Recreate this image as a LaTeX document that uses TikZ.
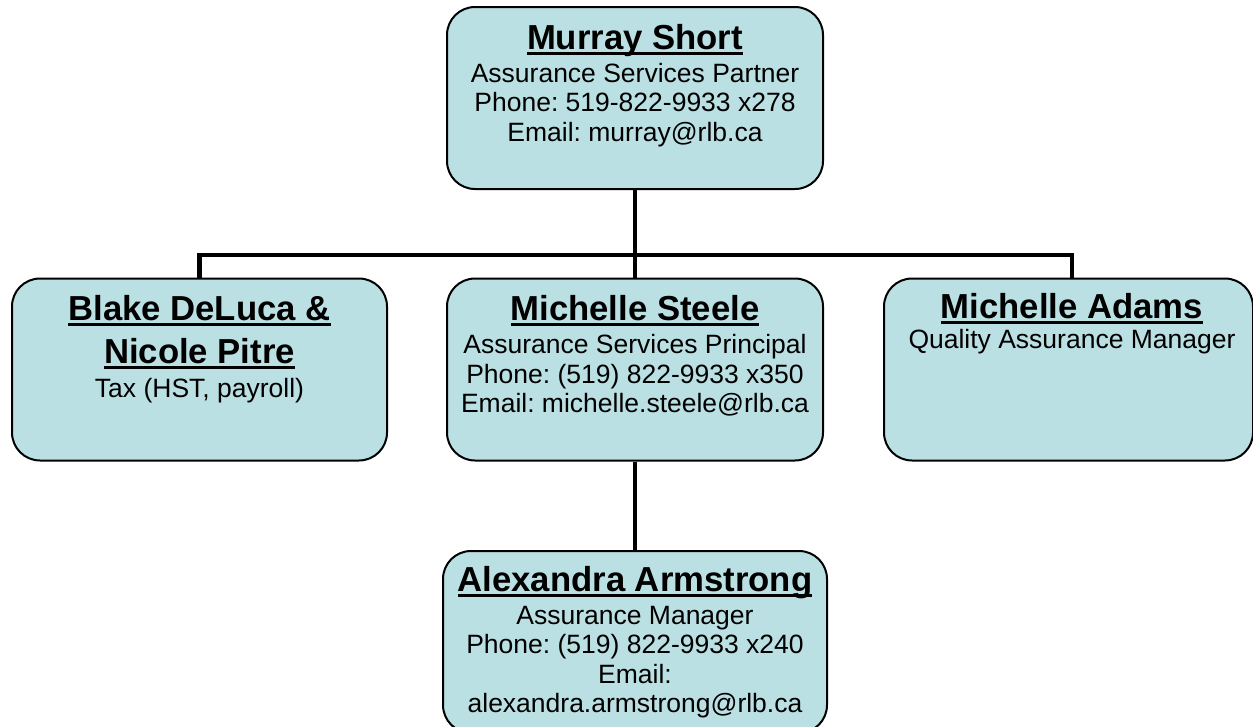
\documentclass[tikz,border=0pt]{standalone}
\usepackage{fontspec}
\setmainfont{Liberation Sans}
\usetikzlibrary{positioning}
\frenchspacing
\definecolor{boxblue}{RGB}{187,224,227}
\newcommand{\bodyfont}{\fontsize{26.5pt}{29.5pt}\selectfont}
\newcommand{\namefont}{\fontsize{34.7pt}{36pt}\selectfont\bfseries}
\newcommand{\uname}[1]{\setbox0\hbox{#1}\vrule height 30pt depth 0pt width 0pt%
    \rlap{\vrule height -2.5pt depth 5.5pt width \wd0}\box0}
\tikzset{
    person box/.style = {draw, fill=boxblue, line width=2pt, rounded corners=28pt,
        inner sep=0pt, minimum height=182pt},
    person text/.style = {align=center, inner sep=0pt, anchor=north, font=\bodyfont},
    org line/.style = {line width=4.7pt}
}

\begin{document}
\begin{tikzpicture}[x=1pt, y=-1pt]
        \useasboundingbox (0, 0) rectangle (1253, 726);

        \node[person box, minimum width=376pt] (murray) at (635, 98) {};
        \node[person box, minimum width=375pt] (blake) at (199.5, 369.5) {};
        \node[person box, minimum width=376pt] (steele) at (635, 369.5) {};
        \node[person box, minimum width=369pt] (adams) at (1068.5, 369.5) {};
        \node[person box, minimum width=384pt] (alexandra) at (635, 642) {};

        \coordinate (bar) at (635, 255);
        \coordinate (adams drop) at ([xshift=3.5pt]adams.north);

        \draw[org line] (murray.south) -- (bar);
        \draw[org line] (blake.north) |- (bar);
        \draw[org line] (adams drop) |- (bar);
        \draw[org line] (steele.north) -- (bar);
        \draw[org line] (steele.south) -- (alexandra.north);

        % the name line is 30pt high, its baseline sits 43pt under the box top
        \node[person text] (murray text) at ([yshift=-13pt]murray.north)
            {{\namefont\uname{Murray Short}}\\[3.5pt]
             Assurance Services Partner\\
             Phone: 519-822-9933 x278\\
             Email: murray@rlb.ca};
        \node[person text] (blake text) at ([yshift=-13pt]blake.north)
            {{\namefont\uname{Blake DeLuca \&}}\\[6.5pt]
             {\namefont\uname{Nicole Pitre}}\\[4.5pt]
             Tax (HST, payroll)};
        \node[person text] (steele text) at ([yshift=-13pt]steele.north)
            {{\namefont\uname{Michelle Steele}}\\[3.5pt]
             Assurance Services Principal\\
             Phone: (519) 822-9933 x350\\
             Email: michelle.steele@rlb.ca};
        \node[person text] (adams text) at ([yshift=-11pt]adams drop)
            {{\namefont\uname{Michelle Adams}}\\[0.5pt]
             Quality Assurance Manager};
        \node[person text] (alexandra text) at ([yshift=-11pt]alexandra.north)
            {{\namefont\uname{Alexandra Armstrong}}\\[3.5pt]
             Assurance Manager\\
             Phone: (519) 822-9933 x240\\
             Email:\\
             alexandra.armstrong@rlb.ca};
\end{tikzpicture}
\end{document}
